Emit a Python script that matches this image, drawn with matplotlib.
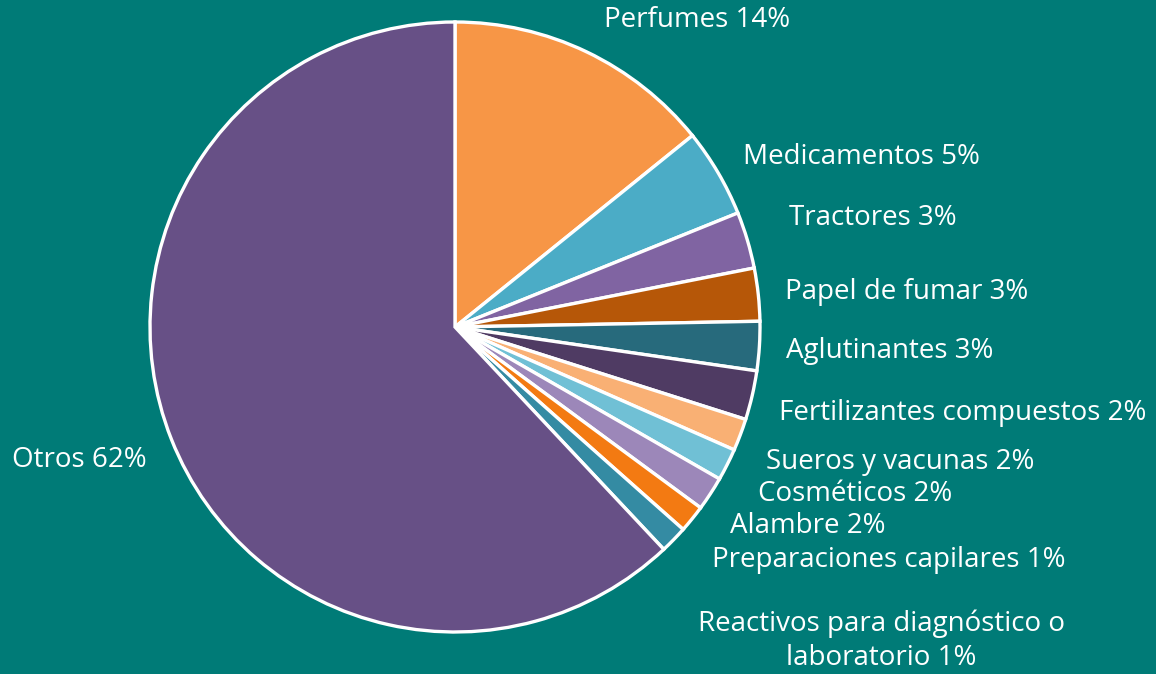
#!/usr/bin/env python3

import matplotlib.pyplot as plt

# slice shares and the percentages printed on the labels
categories = [
    "Perfumes", "Medicamentos", "Tractores", "Papel de fumar", "Aglutinantes",
    "Fertilizantes compuestos", "Sueros y vacunas", "Cosméticos", "Alambre",
    "Preparaciones capilares", "Reactivos para diagnóstico o\nlaboratorio", "Otros",
]
shares = [14.2, 4.7, 3.0, 2.8, 2.6, 2.6, 1.7, 1.7, 1.8, 1.45, 1.45, 62.0]
label_pct = [14, 5, 3, 3, 3, 2, 2, 2, 2, 1, 1, 62]

colors = [
    "#F79646", "#4BACC6", "#8064A2", "#B65708", "#276A7C", "#4F3B63",
    "#F9B074", "#70C0D5", "#9C87B9", "#F37A12", "#348BA3", "#675086",
]

# label anchors in pixels of the 1156x674 picture (left edge / centre y)
label_px = [
    (604, 20), (743, 157), (789, 218), (785, 292), (786, 351), (779, 413),
    (766, 462), (758, 494), (730, 526), (712, 560), (881, 641), (12, 460),
]

BG = "#007B77"
W, H = 1156, 674
CX, CY, R = 455, 327, 305


def main() -> int:
    plt.rcParams["font.family"] = ["Open Sans", "DejaVu Sans"]
    fig = plt.figure(figsize=(W / 100, H / 100), dpi=100, facecolor=BG)
    ax = fig.add_axes([(CX - R) / W, (H - CY - R) / H, 2 * R / W, 2 * R / H])
    ax.set_facecolor(BG)

    ax.pie(
        shares,
        colors=colors,
        startangle=90,
        counterclock=False,
        radius=1.0,
        wedgeprops=dict(edgecolor="white", linewidth=2.4),
    )
    ax.set_xlim(-1, 1)
    ax.set_ylim(-1, 1)
    ax.set_aspect("equal")
    ax.axis("off")

    for name, pct, (px, py) in zip(categories, label_pct, label_px):
        x = (px - CX) / R
        y = (CY - py) / R
        multi = "\n" in name
        ax.text(
            x, y, f"{name} {pct}%",
            color="white", fontsize=20,
            ha="center" if multi else "left", va="center",
            linespacing=1.3, clip_on=False,
        )

    fig.savefig("out.png", dpi=100, facecolor=BG)
    plt.close(fig)
    return 0


if __name__ == "__main__":
    raise SystemExit(main())
